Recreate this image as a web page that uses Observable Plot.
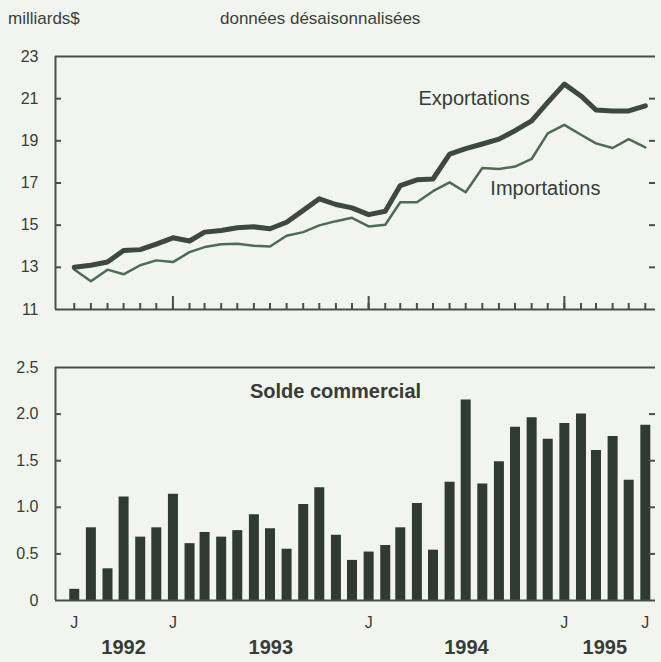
<!DOCTYPE html>
<html><head><meta charset="utf-8">
<script src="https://cdn.jsdelivr.net/npm/d3@7"></script>
<script src="https://cdn.jsdelivr.net/npm/@observablehq/plot@0.6"></script>
<style>
html,body{margin:0;padding:0;background:#f2f5ef;}
#chart{position:relative;width:661px;height:662px;overflow:hidden;font-family:"Liberation Sans",Arial,sans-serif;color:#3a403b;}
.hdr{position:absolute;font-size:17px;line-height:17px;white-space:nowrap;}
#top{position:absolute;left:0;top:0;}
#bottom{position:absolute;left:0;top:345px;}
</style></head><body>
<div id="chart">
  <div class="hdr" style="left:8px;top:10px">milliards$</div>
  <div class="hdr" style="left:220px;top:10px">données désaisonnalisées</div>
  <div id="top"></div>
  <div id="bottom"></div>
</div>
<script>
// ---- data (monthly, July 1992 – June 1995), milliards de dollars
const firstMonth = "1992-07-01";
const endMonth = "1995-07-01";
const exportations = [13.0, 13.1, 13.25, 13.8, 13.84, 14.1, 14.4, 14.25, 14.67, 14.75, 14.88, 14.92,
  14.83, 15.14, 15.7, 16.25, 15.98, 15.82, 15.5, 15.66, 16.88, 17.15, 17.19, 18.37,
  18.63, 18.85, 19.08, 19.48, 19.95, 20.82, 21.69, 21.13, 20.46, 20.42, 20.42, 20.66];
const importations = [12.9, 12.34, 12.89, 12.67, 13.1, 13.33, 13.25, 13.72, 13.96, 14.09, 14.12, 14.02,
  13.99, 14.5, 14.67, 14.99, 15.19, 15.35, 14.94, 15.02, 16.09, 16.09, 16.61, 17.03,
  16.56, 17.71, 17.66, 17.78, 18.14, 19.35, 19.76, 19.29, 18.88, 18.66, 19.08, 18.69];
const solde = [0.12, 0.78, 0.34, 1.11, 0.68, 0.78, 1.14, 0.61, 0.73, 0.68, 0.75, 0.92,
  0.77, 0.55, 1.03, 1.21, 0.70, 0.43, 0.52, 0.59, 0.78, 1.04, 0.54, 1.27,
  2.15, 1.25, 1.49, 1.86, 1.96, 1.73, 1.90, 2.00, 1.61, 1.76, 1.29, 1.88];
const topTickValues = [11, 13, 15, 17, 19, 21, 23];
const bottomTickValues = [0, 0.5, 1, 1.5, 2, 2.5];
const monthLetterMonths = ["1992-07-01", "1993-01-01", "1994-01-01", "1995-01-01", "1995-06-01"];
const monthLetter = "J";
const yearLabels = [1992, 1993, 1994, 1995];
const seriesNames = ["Exportations", "Importations"];
const balanceTitle = "Solde commercial";

// ---- derived tables
const months = d3.utcMonth.range(new Date(firstMonth), new Date(endMonth));
const exportRows = months.map((date, i) => ({date, value: exportations[i]}));
const importRows = months.map((date, i) => ({date, value: importations[i]}));
const balanceRows = months.map((date, i) => ({date, value: solde[i]}));
const janMonths = months.filter(d => d.getUTCMonth() === 0);
const letterRows = monthLetterMonths.map(m => ({date: new Date(m), label: monthLetter}));
const first = months[0], last = months[months.length - 1];
const yearRows = yearLabels.map(y => {
  const a = Math.max(+new Date(Date.UTC(y, 0, 1)), +first);
  const b = Math.min(+new Date(Date.UTC(y + 1, 0, 1)), +last);
  return {date: new Date((a + b) / 2), label: String(y)};
});
const xDomain = [d3.utcDay.offset(first, -35), d3.utcDay.offset(last, 19)];

// ---- layout & styles
const W = 661, ML = 55, MR = 6;
const plotW = W - ML - MR;
const topH = 320, topMT = 56, topMB = 11, topPlotH = topH - topMT - topMB;
const ink = "#45524a";
const textColor = "#363c37";
const font = "'Liberation Sans', Arial, sans-serif";
const style = {background: "transparent", fontFamily: font, fontSize: "16px", color: textColor, overflow: "visible"};

// inward tick helpers (pixel insets, values from the scales)
const leftTicks = v => Plot.ruleY(v, {y: d => d, insetRight: plotW - 6, stroke: ink, strokeWidth: 2});
const rightTicks = v => Plot.ruleY(v, {y: d => d, insetLeft: plotW - 6, stroke: ink, strokeWidth: 2});

const topChart = Plot.plot({
  width: W, height: topH,
  marginLeft: ML, marginRight: MR, marginTop: topMT, marginBottom: topMB,
  style,
  x: {type: "utc", domain: xDomain, label: null, axis: null},
  y: {domain: [11, 23], label: null},
  marks: [
    Plot.ruleY([11, 23], {stroke: ink, strokeWidth: 2}),
    Plot.ruleX([xDomain[0]], {stroke: ink, strokeWidth: 2}),
    Plot.axisY({ticks: topTickValues, tickSize: 0, tickPadding: 17, label: null, fill: textColor, fontSize: 16}),
    leftTicks(topTickValues.slice(1, -1)),
    rightTicks(topTickValues.slice(1, -1)),
    Plot.ruleX(months, {x: d => d, insetTop: topPlotH - 6, stroke: ink, strokeWidth: 2}),
    Plot.ruleX(janMonths, {x: d => d, insetTop: topPlotH - 13, stroke: ink, strokeWidth: 2}),
    Plot.line(importRows, {x: "date", y: "value", stroke: "#4d6b54", strokeWidth: 2.5, strokeLinejoin: "round"}),
    Plot.line(exportRows, {x: "date", y: "value", stroke: "#3d4841", strokeWidth: 5, strokeLinejoin: "round", strokeLinecap: "round"}),
    Plot.text([seriesNames[0]], {x: () => new Date("1994-11-01"), y: () => 21, text: d => d, textAnchor: "end", dx: -2, fontSize: 20, fill: textColor}),
    Plot.text([seriesNames[1]], {x: () => new Date("1994-08-16"), y: () => 16.73, text: d => d, textAnchor: "start", fontSize: 20, fill: textColor})
  ]
});
document.getElementById("top").appendChild(topChart);

const bottomChart = Plot.plot({
  width: W, height: 317,
  marginLeft: ML, marginRight: MR, marginTop: 22, marginBottom: 62,
  style,
  x: {type: "utc", domain: xDomain, axis: null},
  y: {domain: [0, 2.5], label: null},
  marks: [
    Plot.ruleX(balanceRows, {x: "date", y1: 0, y2: "value", stroke: "#2f3a33", strokeWidth: 10}),
    Plot.ruleY([0, 2.5], {stroke: ink, strokeWidth: 2}),
    Plot.ruleX([xDomain[0]], {stroke: ink, strokeWidth: 2}),
    Plot.axisY({ticks: bottomTickValues, tickSize: 0, tickPadding: 17, label: null, tickFormat: d => d === 0 ? "0" : d.toFixed(1), fill: textColor, fontSize: 16}),
    leftTicks(bottomTickValues.slice(1, -1)),
    rightTicks(bottomTickValues.slice(1, -1)),
    Plot.text([balanceTitle], {text: d => d, frameAnchor: "top", dx: -20, dy: 16, fontWeight: "bold", fontSize: 20, fill: textColor}),
    Plot.text(letterRows, {x: "date", text: "label", frameAnchor: "bottom", dy: 27, fontSize: 16, fill: textColor}),
    Plot.text(yearRows, {x: "date", text: "label", frameAnchor: "bottom", dy: 53, fontSize: 20, fontWeight: "bold", fill: textColor})
  ]
});
document.getElementById("bottom").appendChild(bottomChart);
</script>
</body></html>
